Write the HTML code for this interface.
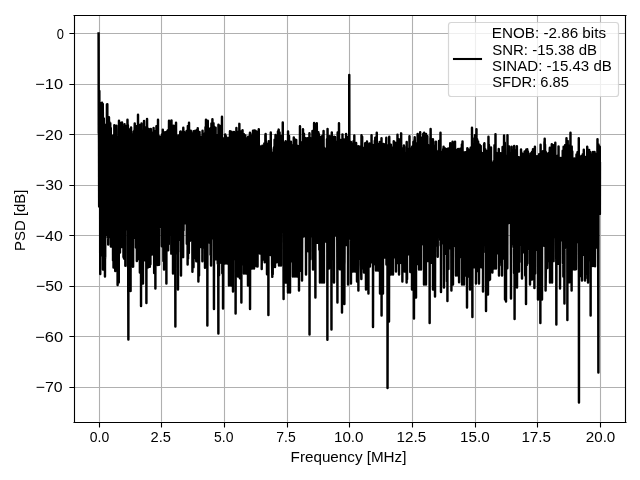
<!DOCTYPE html><html><head><meta charset="utf-8"><title>PSD</title><style>html,body{margin:0;padding:0;background:#fff;}svg{display:block;will-change:transform;}text{font-family:"Liberation Sans",sans-serif;fill:#000;}</style></head><body><svg width="640" height="480" viewBox="0 0 640 480"><rect x="0" y="0" width="640" height="480" fill="#fff"/><defs><clipPath id="ax"><rect x="73.53" y="15" width="551.47" height="406.72"/></clipPath></defs><path d="M99.5 15V421.72M161.5 15V421.72M224.5 15V421.72M287.5 15V421.72M349.5 15V421.72M412.5 15V421.72M475.5 15V421.72M537.5 15V421.72M600.5 15V421.72M73.53 33.5H625M73.53 84.5H625M73.53 134.5H625M73.53 185.5H625M73.53 235.5H625M73.53 286.5H625M73.53 336.5H625M73.53 387.5H625" stroke="#b0b0b0" stroke-width="1.1" fill="none"/><path clip-path="url(#ax)" d="M98.59 33.49L98.76 133.14L98.92 129.50L99.00 139.02L99.17 206.51L99.33 90.99L99.49 150.01L99.57 169.27L99.74 186.85L99.98 128.78L100.06 104.08L100.23 274.03L100.47 164.94L100.55 199.91L100.72 103.20L100.96 248.50L101.04 135.56L101.21 200.93L101.37 103.03L101.45 128.02L101.53 255.27L101.70 176.79L101.94 227.69L102.02 102.81L102.19 193.91L102.43 140.89L102.51 142.58L102.59 182.94L102.76 104.01L102.92 129.34L103.00 269.50L103.16 135.02L103.49 150.31L103.57 196.49L103.65 265.14L103.82 118.42L103.98 170.02L104.06 135.72L104.22 187.66L104.47 128.07L104.55 196.25L104.71 131.71L104.96 276.50L105.04 233.69L105.20 257.88L105.45 142.03L105.53 124.90L105.78 220.01L105.94 139.62L106.02 170.43L106.18 212.56L106.43 207.07L106.51 135.80L106.84 212.66L106.92 104.48L107.00 139.08L107.08 140.93L107.33 104.17L107.41 235.12L107.49 131.18L107.57 137.36L107.90 237.41L107.98 141.41L108.06 172.15L108.22 244.57L108.39 139.71L108.47 161.17L108.55 138.86L108.79 237.11L108.96 117.34L109.04 143.74L109.20 121.36L109.45 135.03L109.53 131.49L109.69 198.55L109.94 171.61L110.02 158.42L110.26 123.19L110.43 192.65L110.51 165.88L110.75 127.91L110.92 246.53L111.00 135.25L111.08 191.89L111.32 136.17L111.49 156.63L111.57 159.52L111.90 224.36L111.98 140.68L112.06 154.91L112.14 139.68L112.22 215.95L112.47 147.14L112.55 168.99L112.71 218.55L112.79 135.70L112.96 160.16L113.04 260.50L113.45 147.09L113.53 267.53L113.77 148.57L113.94 164.47L114.02 172.35L114.26 201.69L114.34 125.32L114.42 137.89L114.51 135.83L114.83 126.85L114.91 210.57L115.00 139.31L115.08 133.15L115.24 271.11L115.49 168.22L115.57 204.15L115.73 214.54L115.98 133.77L116.06 153.12L116.22 186.53L116.38 125.62L116.46 132.03L116.55 211.04L116.71 228.61L116.79 142.04L116.95 143.61L117.04 190.88L117.12 264.13L117.36 152.01L117.44 166.18L117.53 250.07L117.61 285.10L117.85 153.94L117.93 164.94L118.02 141.28L118.10 233.49L118.42 136.85L118.50 143.55L118.75 282.39L118.99 120.70L119.08 178.24L119.40 140.54L119.48 143.53L119.57 249.74L119.89 140.02L119.97 252.50L120.05 124.95L120.30 209.85L120.46 140.23L120.54 136.83L120.71 130.74L120.79 191.14L120.95 132.90L121.03 140.84L121.12 122.80L121.44 232.90L121.52 172.32L121.61 130.37L121.69 246.97L121.93 193.13L122.01 122.47L122.26 187.48L122.42 142.00L122.50 140.26L122.91 240.65L122.99 130.18L123.07 134.21L123.48 257.12L123.56 195.67L123.73 135.41L123.97 258.50L124.05 142.36L124.13 126.78L124.22 240.21L124.46 170.30L124.54 124.21L124.95 248.52L125.03 132.33L125.36 265.66L125.44 173.45L125.52 145.16L125.69 176.35L125.85 131.32L125.93 142.54L126.01 138.98L126.09 126.23L126.17 183.14L126.42 160.87L126.50 229.33L126.58 128.95L126.99 158.27L127.07 152.70L127.15 196.34L127.48 119.70L127.56 128.84L127.89 125.24L127.97 266.69L128.05 210.90L128.38 339.50L128.46 143.55L128.54 221.46L128.79 134.24L128.95 208.64L129.03 176.65L129.19 225.44L129.28 129.41L129.44 171.43L129.52 177.55L129.60 135.80L129.77 245.78L129.93 141.00L130.01 167.62L130.09 143.40L130.34 249.09L130.50 156.35L130.58 291.10L130.66 136.36L130.99 217.75L131.07 127.47L131.23 226.19L131.48 163.32L131.56 151.18L131.64 195.65L131.81 145.66L131.97 152.11L132.05 236.46L132.13 134.12L132.46 137.58L132.54 144.12L132.62 202.42L132.78 135.59L132.95 135.95L133.03 266.50L133.11 266.72L133.36 164.57L133.44 172.11L133.52 174.57L133.60 219.69L133.68 131.62L133.93 181.06L134.01 136.99L134.09 207.28L134.25 130.82L134.50 138.59L134.58 136.08L134.74 123.42L134.91 172.19L134.99 136.28L135.07 191.81L135.31 237.80L135.48 130.11L135.56 140.17L135.89 136.64L135.97 247.50L136.05 237.57L136.37 239.13L136.46 134.29L136.54 174.17L136.70 126.12L136.86 260.92L136.95 191.94L137.03 201.52L137.19 130.10L137.44 132.52L137.52 162.09L137.68 259.15L137.76 141.88L137.92 185.18L138.01 114.70L138.41 258.71L138.50 133.20L138.58 141.53L138.90 204.74L138.99 140.94L139.07 127.35L139.48 211.17L139.56 137.86L139.64 124.97L139.88 272.60L139.96 190.01L140.05 210.43L140.29 131.97L140.45 156.59L140.54 139.96L140.86 264.22L140.94 143.84L141.03 306.10L141.11 129.82L141.43 182.31L141.52 123.41L141.92 202.61L142.00 225.98L142.41 130.71L142.49 137.83L142.58 195.18L142.82 130.70L142.98 283.50L143.07 159.49L143.15 135.13L143.31 228.90L143.47 170.52L143.56 133.66L143.88 225.84L143.96 195.59L144.04 120.95L144.37 208.25L144.45 189.04L144.53 146.07L144.78 134.27L144.86 162.32L144.94 135.21L145.02 156.29L145.27 127.22L145.35 260.51L145.43 138.88L145.51 206.04L145.60 136.27L145.92 137.10L146.00 132.12L146.41 303.10L146.49 139.31L146.57 142.47L146.66 249.01L146.98 120.67L147.06 119.02L147.47 216.22L147.55 148.75L147.80 267.60L147.96 143.77L148.04 149.94L148.29 166.16L148.37 132.27L148.45 154.54L148.53 129.73L148.70 129.02L148.94 222.51L149.02 147.98L149.10 135.77L149.43 193.21L149.51 216.31L149.76 138.38L149.84 266.86L149.92 159.61L150.00 158.47L150.08 136.13L150.41 264.35L150.49 151.96L150.57 173.80L150.65 252.72L150.82 128.89L150.98 152.80L151.06 131.66L151.23 220.16L151.47 132.91L151.55 166.92L151.72 156.85L151.96 254.50L152.04 140.08L152.45 253.68L152.53 185.54L152.61 137.46L152.86 236.95L152.94 195.10L153.02 195.97L153.27 140.08L153.43 220.91L153.51 148.39L153.59 127.92L153.75 240.64L154.00 141.27L154.08 199.35L154.16 273.06L154.33 132.99L154.49 140.59L154.57 169.92L154.73 134.40L154.98 207.21L155.06 145.99L155.31 140.05L155.39 288.50L155.47 205.22L155.55 160.83L155.63 198.15L155.71 131.09L155.96 143.73L156.04 252.69L156.45 126.28L156.53 138.90L156.86 234.99L156.94 141.80L157.02 179.59L157.10 220.38L157.18 135.01L157.43 135.70L157.51 188.14L157.75 265.01L158.00 119.70L158.08 177.08L158.41 136.15L158.49 146.57L158.57 191.81L158.73 140.05L158.81 210.68L158.98 141.01L159.06 264.67L159.39 143.51L159.47 227.48L159.55 149.98L159.63 220.62L159.87 136.56L159.96 152.35L160.04 199.51L160.36 144.95L160.45 162.95L160.53 193.22L160.61 146.46L160.94 186.11L161.02 178.69L161.18 200.60L161.34 138.46L161.43 199.28L161.51 179.63L161.75 173.74L161.91 246.35L162.00 235.04L162.08 144.47L162.16 134.16L162.40 221.92L162.49 149.50L162.57 163.77L162.65 228.30L162.81 129.72L162.98 140.68L163.06 145.88L163.38 260.99L163.47 136.96L163.55 155.50L163.71 150.03L163.79 224.48L163.95 162.53L164.04 269.50L164.28 135.77L164.44 138.04L164.53 149.86L164.77 138.67L164.93 251.63L165.02 173.01L165.10 132.17L165.26 202.95L165.42 182.23L165.51 140.77L165.67 193.46L165.99 188.99L166.08 148.97L166.24 136.79L166.40 283.50L166.48 140.95L166.57 154.93L166.73 219.65L166.97 131.48L167.06 201.76L167.38 137.93L167.46 234.28L167.55 238.94L167.87 130.27L167.95 145.63L168.03 159.21L168.12 136.57L168.20 250.30L168.44 173.94L168.52 140.36L168.77 244.37L168.93 133.95L169.01 120.70L169.10 182.83L169.42 144.06L169.50 135.85L169.58 130.79L169.99 192.54L170.07 217.55L170.48 139.13L170.56 195.56L170.65 139.01L170.97 185.48L171.05 136.11L171.30 253.65L171.46 120.36L171.54 146.90L171.79 173.86L171.87 131.92L171.95 132.95L172.03 190.11L172.11 198.39L172.36 128.77L172.44 177.20L172.52 159.72L172.60 185.28L172.85 144.60L172.93 172.41L173.01 273.50L173.34 125.73L173.42 156.81L173.50 181.63L173.91 135.14L173.99 223.99L174.07 160.77L174.24 133.66L174.40 256.72L174.48 152.42L174.56 146.55L174.64 234.03L174.73 138.58L174.97 182.43L175.05 143.37L175.38 326.50L175.46 185.44L175.54 125.56L175.62 244.88L175.95 155.21L176.03 122.70L176.28 253.37L176.44 148.46L176.52 215.69L176.60 134.92L176.77 253.38L176.93 148.56L177.01 161.04L177.09 192.73L177.17 136.39L177.42 144.53L177.50 149.97L177.83 144.59L177.99 289.50L178.07 264.25L178.23 145.24L178.48 186.45L178.56 170.61L178.81 206.92L178.97 136.90L179.05 143.13L179.13 135.12L179.30 177.27L179.46 161.69L179.54 145.53L179.78 239.80L179.87 136.85L179.95 139.46L180.03 162.73L180.27 131.63L180.36 221.34L180.44 189.43L180.52 158.89L180.76 131.53L180.85 252.02L180.93 181.56L181.01 275.50L181.09 149.27L181.50 168.88L181.58 223.60L181.82 145.22L181.99 173.13L182.07 134.66L182.15 241.66L182.48 145.44L182.56 144.27L182.72 137.50L182.97 199.64L183.05 131.98L183.13 257.14L183.29 127.83L183.46 139.15L183.54 230.59L183.62 144.22L183.95 185.70L184.03 143.60L184.27 139.82L184.44 222.44L184.52 136.11L184.60 132.40L184.84 182.37L184.93 153.11L185.01 141.05L185.25 177.77L185.50 156.32L185.58 223.29L185.99 132.57L186.07 144.08L186.31 207.19L186.39 134.89L186.48 183.43L186.56 138.13L186.64 130.91L186.80 243.76L186.97 138.82L187.05 181.62L187.29 241.08L187.37 147.03L187.45 151.80L187.54 138.77L187.62 264.50L187.86 126.09L187.94 136.48L188.03 258.69L188.35 140.97L188.43 196.58L188.52 141.87L188.84 253.07L188.92 137.70L189.01 122.70L189.41 191.87L189.49 144.44L189.58 163.46L189.82 134.98L189.98 240.67L190.07 139.19L190.23 134.17L190.47 224.79L190.56 171.39L190.72 179.76L190.80 130.66L190.96 137.69L191.05 155.24L191.13 141.88L191.29 215.86L191.45 172.64L191.53 133.21L191.62 166.16L191.94 137.42L192.02 165.58L192.19 134.66L192.43 271.83L192.51 175.14L192.60 230.36L192.76 143.42L192.92 163.28L193.00 139.31L193.33 137.07L193.49 267.13L193.57 131.25L193.98 258.50L194.06 133.94L194.47 203.04L194.55 167.42L194.64 140.12L194.96 143.73L195.04 165.96L195.21 173.22L195.29 130.63L195.45 160.82L195.53 145.35L195.61 189.45L195.94 139.22L196.02 185.21L196.27 261.31L196.35 144.92L196.43 210.19L196.51 150.48L196.84 131.69L196.92 163.14L197.00 139.85L197.08 130.03L197.17 182.04L197.49 147.24L197.57 237.85L197.74 128.28L197.98 240.91L198.06 242.53L198.23 134.33L198.39 281.50L198.47 141.49L198.55 222.31L198.96 138.18L199.04 275.52L199.21 140.50L199.45 147.18L199.53 131.96L199.94 210.91L200.02 148.07L200.18 246.88L200.43 136.60L200.51 190.46L200.59 209.38L200.76 143.13L200.92 188.12L201.00 175.16L201.41 147.45L201.49 247.16L201.57 141.40L201.73 207.66L201.98 183.78L202.06 190.38L202.31 142.62L202.39 261.32L202.47 169.84L202.55 130.81L202.88 219.83L202.96 147.38L203.04 247.50L203.45 141.28L203.53 160.41L203.86 137.51L203.94 213.13L204.02 143.56L204.10 191.18L204.18 133.99L204.43 154.72L204.51 157.41L204.84 135.69L205.00 267.75L205.08 141.72L205.32 203.46L205.49 127.18L205.57 190.49L205.81 264.86L205.98 119.73L206.06 169.88L206.14 197.02L206.39 131.68L206.47 180.31L206.55 142.27L206.79 128.89L206.88 207.69L206.96 144.84L207.04 203.31L207.28 141.64L207.36 325.50L207.45 185.06L207.53 142.37L207.61 241.35L207.77 120.67L207.94 160.10L208.02 157.43L208.43 227.39L208.51 136.37L208.67 214.95L209.00 176.68L209.08 147.81L209.32 175.18L209.49 128.69L209.57 189.46L209.65 130.14L209.73 242.67L209.98 141.97L210.06 164.53L210.14 176.04L210.47 139.84L210.55 254.83L210.96 128.08L211.04 265.50L211.44 123.52L211.53 138.86L211.61 204.32L211.93 190.76L212.02 201.53L212.42 119.34L212.51 166.32L212.83 203.59L213.00 128.50L213.08 145.85L213.24 238.39L213.48 123.20L213.57 167.56L213.65 142.56L213.97 309.10L214.06 126.83L214.30 226.15L214.46 151.75L214.55 138.71L214.63 131.52L214.79 232.38L214.95 155.60L215.04 180.79L215.12 192.10L215.44 131.78L215.52 192.48L215.61 127.61L215.77 259.39L215.93 185.07L216.01 163.30L216.10 135.68L216.26 247.38L216.42 136.91L216.50 143.71L216.67 251.76L216.99 135.46L217.08 140.89L217.16 163.44L217.40 139.55L217.48 153.19L217.56 227.20L217.73 263.53L217.89 140.93L217.97 169.00L218.05 180.63L218.38 333.50L218.46 124.67L218.54 173.31L218.71 147.03L218.79 195.46L218.95 151.48L219.03 275.29L219.36 125.55L219.44 153.20L219.52 141.06L219.77 161.49L219.85 125.91L219.93 140.40L220.01 141.01L220.09 140.40L220.34 255.06L220.42 147.58L220.50 138.03L220.67 262.57L220.75 136.88L220.99 150.15L221.07 161.55L221.32 160.91L221.48 221.63L221.56 135.52L221.64 263.02L221.97 116.70L222.05 148.49L222.13 137.56L222.30 273.32L222.46 142.53L222.54 229.06L222.62 144.14L222.95 187.74L223.03 308.50L223.44 142.80L223.52 167.16L223.85 142.90L223.93 164.34L224.01 144.03L224.17 138.24L224.34 212.20L224.42 148.50L224.50 195.60L224.91 139.09L224.99 263.50L225.07 176.50L225.23 134.36L225.48 176.35L225.56 155.50L225.81 219.72L225.97 146.01L226.05 136.33L226.46 212.57L226.54 169.78L226.79 138.28L226.95 163.83L227.03 263.50L227.19 166.66L227.44 173.62L227.52 140.87L227.60 202.86L227.93 187.98L228.01 207.04L228.42 138.02L228.50 156.28L228.58 191.23L228.74 168.27L228.99 285.50L229.07 145.19L229.31 207.32L229.48 139.82L229.56 230.28L229.97 131.20L230.05 148.72L230.13 141.50L230.38 251.01L230.46 187.57L230.54 160.28L230.70 247.51L230.95 233.57L231.03 285.50L231.44 131.65L231.52 137.07L231.76 194.83L231.93 141.37L232.01 151.88L232.33 140.45L232.42 253.95L232.50 147.30L232.58 241.95L232.82 132.64L232.99 291.50L233.07 147.52L233.15 144.62L233.31 259.46L233.48 170.02L233.56 219.04L233.97 131.97L234.05 147.19L234.21 243.45L234.46 212.83L234.54 138.51L234.70 136.95L234.95 199.52L235.03 160.79L235.11 132.86L235.19 183.49L235.43 175.69L235.52 200.64L235.60 313.50L235.84 137.64L235.92 153.83L236.01 176.02L236.41 128.05L236.50 213.66L236.58 183.56L236.74 157.32L236.98 230.83L237.07 216.35L237.47 134.23L237.56 166.10L237.64 142.81L237.96 276.50L238.05 144.99L238.13 224.71L238.45 131.75L238.54 142.49L238.62 224.94L238.78 138.43L238.94 156.28L239.02 161.54L239.19 171.19L239.35 123.85L239.43 142.44L239.51 159.31L239.84 140.72L239.92 278.17L240.00 276.50L240.49 131.20L240.58 204.98L240.66 146.79L240.74 212.74L240.98 202.55L241.06 258.08L241.15 135.00L241.39 302.50L241.47 189.73L241.55 136.63L241.96 197.10L242.04 161.84L242.37 145.78L242.45 264.38L242.53 130.32L242.86 206.73L242.94 158.41L243.02 233.75L243.43 136.12L243.51 247.04L243.92 134.10L244.00 273.50L244.08 150.30L244.49 150.62L244.57 271.87L244.98 148.40L245.06 159.29L245.31 135.45L245.39 203.97L245.47 168.59L245.55 158.23L245.63 152.26L245.96 273.50L246.04 189.02L246.37 252.47L246.45 174.68L246.53 182.88L246.70 216.42L246.78 155.60L246.94 171.59L247.02 146.19L247.10 233.81L247.43 138.23L247.51 161.97L247.59 252.31L247.84 145.50L247.92 167.48L248.00 285.50L248.16 136.73L248.49 141.46L248.57 148.50L248.74 139.30L248.90 252.78L248.98 207.93L249.06 159.37L249.31 227.13L249.47 148.65L249.55 198.90L249.80 270.48L249.96 132.79L250.04 309.10L250.29 133.56L250.45 210.13L250.53 147.24L250.69 232.14L250.86 140.07L250.94 143.64L251.02 174.01L251.26 142.88L251.43 228.12L251.51 135.59L252.00 268.50L252.08 140.76L252.16 140.29L252.41 218.22L252.49 181.01L252.57 135.35L252.82 200.42L252.98 130.70L253.06 143.07L253.22 135.10L253.39 190.97L253.47 142.90L253.55 136.10L253.79 183.38L253.96 158.32L254.04 268.50L254.20 130.54L254.45 150.91L254.53 147.27L254.61 222.12L254.69 139.92L254.94 145.11L255.02 141.29L255.10 190.22L255.26 130.66L255.43 152.68L255.51 137.41L255.59 221.76L256.00 156.38L256.08 133.58L256.24 132.61L256.41 266.35L256.49 171.91L256.57 150.20L256.73 131.60L256.89 263.38L256.98 149.71L257.06 149.33L257.14 198.19L257.38 133.89L257.47 175.95L257.55 266.42L257.79 136.24L257.96 150.84L258.04 253.50L258.20 136.97L258.45 199.33L258.53 168.20L258.61 196.21L258.77 129.34L258.93 169.66L259.02 156.50L259.10 148.51L259.26 177.06L259.42 174.83L259.51 190.77L259.59 145.99L260.00 253.50L260.08 195.99L260.24 248.03L260.49 146.81L260.57 150.27L260.97 233.19L261.06 152.19L261.22 180.84L261.38 147.07L261.46 166.38L261.55 149.00L261.71 269.08L261.95 198.82L262.04 253.50L262.28 145.81L262.36 257.35L262.44 158.25L262.53 232.80L262.77 154.31L262.93 203.74L263.01 179.58L263.34 163.11L263.42 207.39L263.50 192.11L263.67 259.59L263.75 154.28L263.99 259.50L264.08 259.09L264.32 143.50L264.48 153.45L264.57 226.04L264.65 144.37L264.73 262.23L264.97 233.48L265.05 174.05L265.14 231.67L265.38 135.08L265.46 210.01L265.54 229.18L265.63 134.09L265.95 152.20L266.03 259.50L266.20 149.13L266.44 242.12L266.52 190.27L266.61 155.82L266.93 157.05L267.01 274.21L267.26 143.94L267.42 166.06L267.50 196.45L267.58 153.52L267.83 249.88L267.99 191.07L268.07 150.43L268.24 146.94L268.40 315.10L268.48 211.52L268.56 155.28L268.73 141.28L268.81 233.41L268.97 204.73L269.05 172.78L269.13 152.39L269.46 196.88L269.54 149.13L269.87 241.66L269.95 180.23L270.03 215.07L270.11 151.14L270.44 152.34L270.52 144.57L270.60 254.98L270.77 132.53L270.93 250.44L271.01 254.50L271.09 148.94L271.42 166.76L271.50 152.38L271.58 227.46L271.99 152.63L272.07 263.63L272.32 276.86L272.48 155.54L272.56 171.28L272.72 274.19L272.89 153.18L272.97 254.50L273.05 266.45L273.21 153.40L273.46 253.44L273.54 192.79L273.87 252.30L273.95 147.42L274.03 239.34L274.11 258.56L274.36 146.71L274.44 219.75L274.52 157.50L274.60 139.84L274.85 225.45L274.93 164.71L275.01 267.10L275.50 134.96L275.58 142.65L275.99 255.92L276.07 153.77L276.15 177.59L276.23 148.80L276.48 157.98L276.56 174.80L276.64 162.43L276.72 262.32L276.97 191.23L277.05 153.87L277.38 136.32L277.46 222.42L277.54 165.28L277.87 203.82L277.95 131.42L278.03 149.68L278.11 144.53L278.19 225.50L278.44 144.91L278.52 131.20L278.68 129.60L278.76 243.95L278.93 162.77L279.01 265.50L279.17 141.20L279.50 196.03L279.58 132.47L279.99 257.88L280.07 144.14L280.31 245.62L280.48 136.62L280.56 175.52L280.88 143.14L280.97 265.50L281.05 154.03L281.29 227.99L281.46 171.15L281.54 205.74L281.62 216.74L281.86 135.63L281.95 177.34L282.03 142.27L282.11 175.61L282.44 156.85L282.52 147.44L282.68 226.47L282.76 122.52L282.92 205.65L283.01 150.86L283.17 148.93L283.50 242.16L283.58 298.90L283.66 142.44L283.99 165.01L284.07 148.01L284.31 244.96L284.48 163.28L284.56 169.05L284.72 143.36L284.80 246.34L284.96 165.94L285.05 196.90L285.37 149.47L285.45 271.85L285.54 151.36L285.62 141.26L285.86 282.63L285.94 145.71L286.03 168.85L286.11 184.66L286.19 143.96L286.43 172.88L286.51 145.33L286.84 203.50L286.92 161.34L287.00 172.00L287.25 145.04L287.49 203.80L287.58 156.10L287.66 144.90L287.98 292.50L288.07 131.42L288.47 249.38L288.55 158.12L288.72 231.62L288.80 138.64L288.96 143.18L289.04 135.93L289.29 199.38L289.45 152.07L289.53 144.82L289.86 204.40L289.94 143.99L290.02 292.50L290.19 150.92L290.43 158.13L290.51 158.18L290.76 261.33L290.92 141.81L291.00 155.51L291.41 155.45L291.49 261.22L291.57 198.28L291.66 151.63L291.82 260.02L291.98 184.27L292.06 154.65L292.23 193.95L292.39 145.80L292.47 170.80L292.55 147.63L292.96 276.50L293.04 168.82L293.29 152.59L293.37 243.58L293.45 193.67L293.53 162.53L293.78 137.56L293.94 214.37L294.02 161.36L294.19 190.13L294.27 143.94L294.43 177.81L294.51 152.54L294.59 235.33L294.67 139.10L294.92 205.83L295.00 276.50L295.33 150.37L295.49 151.37L295.57 184.60L295.65 250.11L295.98 163.86L296.06 240.11L296.23 139.97L296.31 247.32L296.47 147.95L296.55 150.25L296.63 149.40L296.96 276.50L297.04 156.74L297.12 148.02L297.20 213.59L297.45 168.94L297.53 153.32L297.69 145.87L297.78 175.90L297.94 174.15L298.02 178.79L298.18 148.29L298.35 234.08L298.43 195.22L298.51 188.53L298.84 147.04L299.00 290.50L299.08 188.45L299.33 238.18L299.41 159.97L299.49 179.86L299.57 255.48L299.98 126.20L300.06 156.00L300.31 238.56L300.39 147.35L300.47 153.86L300.55 226.65L300.63 149.86L300.71 270.67L300.96 152.92L301.04 231.35L301.12 142.49L301.45 173.06L301.53 269.19L301.94 144.20L302.02 280.50L302.43 141.90L302.51 182.39L302.83 233.77L303.00 129.20L303.08 170.94L303.16 143.37L303.24 211.15L303.49 149.00L303.57 236.42L303.98 133.72L304.06 147.17L304.14 222.51L304.47 166.07L304.55 158.66L304.79 147.87L304.87 176.38L304.96 169.05L305.04 137.97L305.28 202.32L305.45 200.73L305.53 201.58L305.61 232.88L305.85 186.75L305.94 230.37L306.02 274.50L306.26 138.55L306.42 177.81L306.51 150.55L306.59 227.01L307.00 145.59L307.08 172.82L307.32 140.92L307.49 228.42L307.57 224.13L307.65 138.22L307.98 178.07L308.06 191.23L308.22 251.30L308.46 153.66L308.55 192.17L308.63 249.57L308.71 145.59L308.95 220.33L309.04 171.94L309.12 237.38L309.44 133.31L309.53 334.50L309.77 145.92L309.93 153.43L310.02 151.73L310.26 142.37L310.34 259.21L310.42 225.14L310.50 156.36L310.83 138.58L310.91 195.87L310.99 151.16L311.08 147.16L311.24 140.03L311.48 236.39L311.57 182.79L311.65 188.74L311.81 141.01L311.97 146.69L312.06 175.47L312.14 186.24L312.46 131.07L312.54 197.46L312.71 139.47L312.95 145.60L313.03 269.50L313.20 133.41L313.44 144.46L313.52 172.54L313.61 138.16L313.77 264.60L313.93 145.25L314.01 174.71L314.10 123.04L314.26 264.62L314.42 179.85L314.50 138.14L314.58 197.36L314.83 136.54L314.99 140.06L315.07 128.48L315.40 297.50L315.48 187.29L315.56 176.71L315.65 225.14L315.89 140.91L315.97 145.98L316.05 192.79L316.38 124.09L316.46 161.84L316.54 213.97L316.79 123.24L316.95 141.38L317.03 149.58L317.36 138.62L317.44 242.68L317.52 181.98L317.69 147.99L317.77 203.86L317.93 173.32L318.01 172.33L318.18 183.06L318.34 132.32L318.42 152.99L318.50 206.77L318.91 134.31L318.99 146.18L319.07 190.67L319.32 249.68L319.48 141.38L319.56 173.10L319.73 140.97L319.97 282.50L320.05 151.06L320.13 139.00L320.38 278.19L320.46 251.80L320.54 144.97L320.87 137.09L320.95 259.04L321.03 188.45L321.36 136.81L321.44 207.84L321.52 148.21L321.60 146.65L321.93 245.76L322.01 282.50L322.17 145.58L322.50 177.28L322.58 166.63L322.66 135.45L322.74 208.20L322.99 143.67L323.07 143.21L323.23 233.15L323.48 140.73L323.56 130.95L323.97 282.50L324.05 147.69L324.13 214.19L324.46 163.13L324.54 208.28L324.70 228.05L324.78 157.51L324.95 163.24L325.03 157.19L325.36 241.43L325.44 197.75L325.52 176.52L325.60 148.70L325.76 227.89L325.93 184.94L326.01 214.38L326.50 148.51L326.58 200.20L326.74 233.64L326.99 139.18L327.07 162.98L327.23 146.71L327.40 339.80L327.48 151.24L327.56 129.04L327.64 159.63L327.97 149.76L328.05 178.61L328.21 147.14L328.29 252.41L328.46 148.37L328.54 247.62L328.62 165.67L328.95 268.42L329.03 149.44L329.27 206.75L329.44 199.84L329.52 170.89L329.60 136.21L329.68 191.82L329.93 147.15L330.01 234.59L330.50 147.56L330.58 229.96L330.99 175.48L331.07 153.61L331.23 143.86L331.48 329.60L331.56 148.77L331.64 163.71L331.80 132.49L331.97 152.34L332.05 249.48L332.37 138.90L332.45 145.97L332.54 168.43L332.62 147.53L332.86 205.32L332.94 196.49L333.03 215.77L333.11 144.88L333.43 158.64L333.52 153.73L333.68 225.23L333.76 142.83L333.92 180.85L334.01 282.50L334.17 136.60L334.49 147.48L334.58 149.33L334.66 211.05L334.98 136.93L335.07 187.12L335.31 223.45L335.39 142.54L335.47 153.23L335.56 235.45L335.96 148.78L336.05 144.95L336.13 204.26L336.45 188.54L336.53 146.19L336.78 207.43L336.94 141.76L337.02 153.82L337.43 302.50L337.51 166.72L337.68 132.51L337.84 256.97L337.92 138.70L338.00 143.48L338.17 141.19L338.41 193.38L338.49 158.28L338.57 192.28L338.90 246.50L338.98 123.20L339.06 151.13L339.15 247.86L339.47 147.34L339.55 196.67L339.64 151.36L339.88 269.32L339.96 156.83L340.04 234.17L340.12 141.13L340.45 199.97L340.53 139.96L340.61 267.60L340.94 144.16L341.02 174.57L341.10 145.50L341.35 227.51L341.43 202.76L341.51 152.39L341.76 143.52L341.84 230.50L341.92 213.94L342.00 312.50L342.49 134.36L342.57 223.30L342.90 147.35L342.98 154.15L343.06 203.28L343.39 144.53L343.47 236.46L343.55 223.13L343.63 144.91L343.96 163.74L344.04 176.87L344.12 139.45L344.37 303.90L344.45 265.32L344.53 261.79L344.94 152.76L345.02 196.77L345.10 230.33L345.18 146.33L345.43 208.90L345.51 147.53L345.59 141.63L345.92 178.68L346.00 176.19L346.08 133.88L346.16 207.13L346.49 149.25L346.57 216.27L346.65 139.50L346.73 245.02L346.98 211.77L347.06 160.95L347.14 137.70L347.39 205.91L347.47 140.09L347.55 200.62L347.71 147.82L347.96 194.41L348.04 284.50L348.37 136.61L348.45 139.28L348.53 202.65L348.69 139.60L348.77 222.33L348.94 183.48L349.02 150.99L349.18 186.32L349.26 74.87L349.43 176.87L349.51 168.20L349.84 224.83L349.92 154.35L350.00 183.22L350.08 179.26L350.16 158.69L350.49 174.20L350.57 239.00L350.90 142.09L350.98 283.50L351.06 215.41L351.39 146.51L351.47 243.00L351.55 143.73L351.88 246.36L351.96 157.02L352.04 166.56L352.36 154.49L352.45 262.42L352.53 157.85L352.61 148.16L352.94 248.02L353.02 271.50L353.34 143.42L353.43 180.43L353.51 141.34L354.00 205.86L354.08 207.84L354.32 135.50L354.40 245.44L354.49 190.64L354.57 168.68L354.65 144.17L354.98 271.50L355.06 157.79L355.22 223.64L355.38 146.56L355.47 181.71L355.55 209.76L355.71 146.77L355.95 147.25L356.04 154.73L356.12 142.99L356.20 193.52L356.44 167.72L356.53 157.05L356.85 153.09L356.93 221.88L357.02 281.50L357.10 202.13L357.42 206.99L357.51 178.92L357.67 153.77L357.91 236.37L357.99 229.96L358.08 161.32L358.32 146.23L358.40 290.50L358.48 151.47L358.57 147.33L358.81 219.62L358.97 205.09L359.06 200.06L359.14 157.65L359.22 249.04L359.46 217.24L359.55 179.58L359.79 146.81L359.95 258.67L360.03 239.46L360.12 161.80L360.44 175.26L360.52 162.36L360.61 251.55L360.85 161.55L360.93 162.10L361.01 264.50L361.34 278.93L361.42 159.14L361.50 135.20L361.83 206.59L361.99 195.89L362.07 181.33L362.16 136.83L362.32 236.39L362.48 186.51L362.56 224.52L362.81 189.04L362.89 268.25L362.97 216.11L363.05 155.42L363.22 198.20L363.30 147.77L363.46 166.61L363.54 186.28L363.71 184.09L363.87 234.48L363.95 201.96L364.03 272.50L364.44 151.92L364.52 165.59L364.77 258.75L364.85 154.84L364.93 252.84L365.01 260.14L365.18 143.22L365.42 190.51L365.50 206.35L365.67 151.04L365.99 289.50L366.07 169.13L366.15 232.16L366.32 148.70L366.48 157.94L366.56 230.70L366.97 141.39L367.05 255.10L367.46 147.35L367.54 179.21L367.87 193.23L367.95 152.53L368.03 164.69L368.19 146.84L368.44 293.50L368.52 152.98L368.77 236.36L368.93 161.10L369.01 193.08L369.09 198.30L369.42 143.59L369.50 166.17L369.83 159.13L369.91 266.44L369.99 171.87L370.07 147.60L370.23 245.94L370.48 176.17L370.56 216.25L370.72 156.06L370.89 262.24L370.97 229.41L371.05 218.05L371.30 246.24L371.46 158.46L371.54 135.20L371.87 185.75L371.95 144.68L372.03 208.82L372.27 144.78L372.44 159.61L372.52 157.37L372.60 185.49L372.85 145.41L372.93 166.07L373.01 326.90L373.34 145.18L373.50 152.95L373.58 148.81L373.74 264.53L373.82 145.62L373.99 160.22L374.07 156.81L374.15 145.76L374.40 251.46L374.48 234.69L374.56 211.45L374.80 140.69L374.97 189.41L375.05 141.18L375.21 192.36L375.29 137.61L375.46 158.88L375.54 190.65L375.95 150.16L376.03 270.50L376.35 151.59L376.44 209.59L376.52 188.36L376.60 192.27L376.76 132.70L376.93 154.82L377.01 149.87L377.33 146.15L377.42 260.16L377.50 155.38L377.58 145.12L377.99 270.50L378.07 180.11L378.39 191.17L378.48 144.01L378.56 207.39L378.88 264.02L378.97 151.83L379.05 175.69L379.21 267.98L379.29 148.38L379.46 196.55L379.54 181.95L379.70 141.99L379.86 230.40L379.94 198.00L380.03 293.50L380.11 143.71L380.43 151.26L380.52 253.83L380.92 148.59L381.01 176.17L381.17 264.66L381.50 138.15L381.58 315.50L381.74 144.51L381.98 156.76L382.07 145.60L382.15 235.55L382.47 150.65L382.56 165.72L382.64 157.99L382.96 293.50L383.05 201.57L383.29 219.11L383.37 143.90L383.45 161.89L383.54 182.61L383.70 148.85L383.86 224.44L383.94 177.38L384.02 201.57L384.11 210.81L384.27 153.14L384.43 163.83L384.51 182.87L384.60 144.47L384.68 257.47L384.92 159.47L385.00 162.06L385.17 151.53L385.33 239.18L385.49 153.19L385.58 192.06L385.90 205.44L385.98 149.51L386.06 159.49L386.31 137.79L386.47 264.51L386.55 190.53L386.72 217.45L386.80 146.36L386.96 154.90L387.04 181.68L387.13 175.05L387.21 222.43L387.45 182.24L387.53 388.10L387.94 147.54L388.02 205.89L388.35 145.20L388.43 206.48L388.51 155.96L388.59 250.22L388.84 149.43L388.92 210.13L389.00 321.50L389.25 136.64L389.49 161.58L389.57 172.64L389.65 154.20L389.98 244.12L390.06 156.34L390.31 148.94L390.47 184.79L390.55 231.90L390.88 144.83L390.96 274.50L391.04 193.69L391.12 261.70L391.29 152.28L391.45 172.30L391.53 180.32L391.61 156.08L391.69 220.08L391.94 208.61L392.02 206.48L392.18 148.87L392.43 197.87L392.51 194.12L392.92 147.58L393.00 274.50L393.41 147.77L393.49 211.58L393.57 167.37L393.73 141.26L393.98 248.63L394.06 148.34L394.47 257.34L394.55 160.06L394.80 144.53L394.96 184.43L395.04 179.97L395.20 142.73L395.45 229.37L395.53 164.99L395.61 242.55L395.94 151.05L396.02 271.50L396.18 156.14L396.43 177.57L396.51 187.23L396.67 162.14L396.75 203.52L397.00 167.42L397.08 162.95L397.16 196.74L397.49 134.70L397.57 150.75L397.73 263.08L397.98 244.86L398.06 172.31L398.30 258.66L398.47 158.68L398.55 147.54L398.79 139.32L398.96 229.81L399.04 274.50L399.12 156.97L399.45 176.20L399.53 173.87L399.77 153.64L399.94 219.27L400.02 191.64L400.43 146.92L400.51 202.65L400.67 158.54L400.92 229.13L401.00 165.19L401.08 150.62L401.16 133.35L401.32 263.02L401.49 251.07L401.57 164.63L401.81 156.96L401.89 230.80L401.98 165.08L402.06 158.26L402.38 281.50L402.47 186.50L402.55 237.83L402.79 260.69L402.87 155.87L402.96 162.79L403.04 157.45L403.12 210.79L403.28 148.82L403.44 158.35L403.53 147.96L403.69 244.06L403.93 145.54L404.02 212.01L404.18 146.66L404.42 200.77L404.51 173.14L404.59 271.60L404.91 158.10L405.00 254.50L405.08 157.68L405.32 153.43L405.48 180.22L405.57 198.07L405.73 153.12L405.97 234.36L406.06 198.50L406.22 209.97L406.30 153.11L406.46 156.79L406.55 152.46L406.63 282.42L406.71 141.96L406.95 258.98L407.04 279.31L407.12 151.57L407.44 171.17L407.52 195.64L407.69 179.80L407.77 249.00L407.93 218.00L408.01 254.50L408.42 149.49L408.50 191.34L408.67 216.09L408.83 148.60L408.99 209.16L409.08 176.96L409.16 218.27L409.48 136.20L409.56 178.99L409.65 202.03L409.89 154.95L409.97 168.95L410.05 215.19L410.22 153.45L410.30 272.01L410.46 176.68L410.54 148.39L410.79 263.65L410.95 175.73L411.03 154.34L411.12 184.09L411.28 148.69L411.44 149.39L411.52 202.77L411.77 234.93L411.93 151.88L412.01 289.50L412.18 146.64L412.42 156.43L412.50 252.13L412.58 253.00L412.75 146.13L412.99 213.60L413.07 201.75L413.40 142.06L413.48 220.01L413.56 262.23L413.73 153.54L413.97 318.50L414.05 155.04L414.13 234.23L414.38 140.19L414.46 154.10L414.54 174.96L414.71 137.23L414.95 151.87L415.03 142.95L415.36 259.04L415.44 161.76L415.52 182.91L415.77 154.73L415.93 204.09L416.01 297.50L416.09 148.36L416.42 174.36L416.50 150.75L416.75 148.85L416.91 202.60L416.99 198.94L417.07 152.02L417.24 142.87L417.40 218.67L417.48 175.07L417.56 144.65L417.64 134.00L417.72 222.65L417.97 140.53L418.05 264.11L418.13 137.44L418.46 150.57L418.54 222.53L418.62 144.73L418.95 176.68L419.03 269.50L419.28 135.75L419.44 154.40L419.52 140.57L419.68 227.28L419.93 154.77L420.01 191.55L420.17 132.25L420.34 242.86L420.50 172.39L420.58 166.28L420.91 150.60L420.99 269.50L421.07 149.44L421.31 148.46L421.40 176.48L421.48 175.92L421.56 174.63L421.89 237.63L421.97 137.63L422.05 152.30L422.38 243.90L422.46 168.57L422.54 173.98L422.78 146.28L422.95 174.82L423.03 145.15L423.27 133.78L423.35 244.43L423.44 174.00L423.52 154.67L423.76 174.90L423.93 139.02L424.01 284.50L424.17 132.69L424.50 229.24L424.58 155.95L424.66 246.23L424.91 151.33L424.99 224.52L425.07 195.67L425.23 148.77L425.31 197.71L425.48 183.45L425.56 172.77L425.64 152.69L425.97 284.50L426.05 133.90L426.37 211.05L426.46 162.62L426.54 192.53L426.86 136.12L426.95 147.95L427.03 196.78L427.19 218.85L427.35 136.23L427.43 216.94L427.52 200.88L427.60 149.35L427.76 260.94L427.92 229.23L428.01 219.50L428.09 144.95L428.50 233.74L428.58 186.79L428.66 215.98L428.82 150.62L428.99 158.31L429.07 237.18L429.15 152.77L429.47 189.34L429.56 206.39L429.64 323.10L429.80 150.05L429.96 224.49L430.05 147.26L430.13 225.58L430.45 137.85L430.54 160.62L430.62 128.93L430.94 185.17L431.03 139.40L431.43 262.86L431.51 203.57L431.60 222.01L431.68 149.81L431.92 156.72L432.00 193.95L432.17 244.16L432.33 150.18L432.49 209.91L432.58 177.77L432.90 139.13L432.98 289.50L433.07 197.00L433.23 268.51L433.31 141.41L433.47 183.82L433.55 150.96L433.64 257.50L433.72 147.65L433.96 191.98L434.04 174.41L434.21 153.35L434.45 254.11L434.53 152.20L434.78 145.62L434.86 240.20L434.94 237.06L435.02 296.50L435.27 153.51L435.43 193.28L435.51 155.74L435.76 236.22L435.92 141.81L436.00 158.16L436.25 212.84L436.41 152.05L436.49 178.67L436.57 214.98L436.98 154.91L437.06 154.84L437.23 245.52L437.39 152.09L437.47 239.29L437.55 192.49L437.72 256.80L437.88 154.95L437.96 182.52L438.04 177.27L438.21 154.96L438.45 190.79L438.53 154.30L438.61 232.96L438.70 150.51L438.94 207.82L439.02 141.05L439.27 225.46L439.43 200.70L439.51 187.79L439.67 225.91L439.76 158.26L439.92 174.95L440.00 154.15L440.25 240.06L440.49 132.70L440.57 245.39L440.90 159.20L440.98 291.90L441.06 263.16L441.31 151.67L441.47 213.72L441.55 243.70L441.71 155.16L441.96 161.64L442.04 172.46L442.12 232.60L442.20 162.57L442.45 175.72L442.53 158.24L442.69 243.10L442.94 188.91L443.02 185.91L443.10 213.73L443.26 148.90L443.43 151.23L443.51 154.43L443.59 146.75L444.00 287.50L444.08 270.42L444.24 163.12L444.49 198.38L444.57 158.97L444.90 234.23L444.98 162.47L445.06 200.99L445.22 148.53L445.47 164.60L445.55 158.58L445.79 246.96L445.96 156.32L446.04 148.92L446.20 253.91L446.45 212.72L446.53 194.72L446.61 149.93L446.86 249.89L446.94 159.06L447.02 281.45L447.34 159.22L447.43 301.10L447.51 153.90L447.92 237.78L448.00 187.23L448.08 180.77L448.24 148.38L448.41 269.10L448.49 161.10L448.57 152.31L448.65 208.92L448.98 195.27L449.06 175.75L449.14 161.47L449.47 217.60L449.55 154.82L449.71 182.27L449.96 167.52L450.04 190.27L450.20 143.11L450.28 205.52L450.45 153.42L450.53 248.28L450.61 150.83L450.94 155.14L451.02 159.97L451.10 158.44L451.42 290.50L451.51 160.52L451.91 226.98L452.00 150.28L452.08 219.37L452.49 148.39L452.57 141.84L452.98 284.50L453.06 149.55L453.46 246.52L453.55 178.52L453.63 216.40L453.87 156.13L453.95 176.32L454.04 157.87L454.20 154.22L454.36 167.89L454.44 156.76L454.53 196.69L454.61 150.02L454.93 191.35L455.01 141.63L455.26 198.89L455.42 183.44L455.50 164.54L455.59 151.60L455.99 275.50L456.08 166.22L456.32 149.85L456.40 174.28L456.48 152.87L456.57 156.37L456.89 210.02L456.97 162.30L457.05 153.45L457.30 225.71L457.46 154.16L457.54 155.27L457.63 179.31L457.95 156.59L458.03 275.50L458.12 148.98L458.44 163.33L458.52 194.95L458.61 155.63L458.85 219.62L458.93 158.77L459.01 158.29L459.09 282.31L459.42 158.61L459.50 165.53L459.83 164.59L459.99 217.63L460.07 245.34L460.32 148.80L460.48 181.78L460.56 188.73L460.89 154.80L460.97 191.27L461.05 155.92L461.13 240.98L461.38 151.50L461.46 166.54L461.54 153.84L461.62 257.66L461.87 144.38L461.95 156.66L462.03 284.50L462.20 160.45L462.44 169.33L462.52 141.49L462.85 211.29L462.93 175.19L463.01 158.45L463.09 228.98L463.42 152.27L463.50 216.33L463.66 183.52L463.99 284.50L464.07 247.09L464.32 155.90L464.48 217.91L464.56 169.48L464.73 164.56L464.97 255.20L465.05 260.56L465.30 152.13L465.46 246.16L465.54 202.53L465.62 275.46L465.79 155.60L465.95 173.06L466.03 209.83L466.36 152.55L466.44 189.67L466.52 249.40L466.77 155.24L466.93 204.10L467.01 307.50L467.34 148.20L467.50 201.98L467.58 155.52L467.99 208.27L468.07 151.26L468.15 202.23L468.48 172.32L468.56 195.50L468.72 149.61L468.97 233.88L469.05 159.07L469.21 276.50L469.46 227.14L469.54 158.28L469.62 271.07L469.70 153.95L469.95 192.45L470.03 289.50L470.27 153.77L470.44 221.91L470.52 209.17L470.68 147.75L470.76 267.20L470.93 158.39L471.01 159.69L471.09 270.36L471.25 150.85L471.50 162.12L471.58 252.61L471.91 264.45L471.99 127.70L472.07 161.28L472.40 317.10L472.48 147.73L472.56 144.31L472.88 235.22L472.97 151.22L473.05 235.03L473.29 149.19L473.46 155.53L473.54 187.97L473.78 151.16L473.95 256.58L474.03 144.11L474.35 267.33L474.44 151.85L474.52 138.35L474.60 261.24L474.92 155.93L475.01 135.25L475.50 237.09L475.58 209.67L475.90 143.04L475.99 283.50L476.07 160.72L476.23 257.71L476.48 129.20L476.56 271.56L476.96 149.68L477.05 196.08L477.13 139.34L477.21 206.51L477.45 146.54L477.54 260.79L477.86 149.44L477.94 156.57L478.03 145.61L478.11 141.47L478.19 223.69L478.43 171.07L478.52 199.50L478.68 148.36L478.92 260.24L479.00 283.50L479.49 144.60L479.58 170.59L479.90 145.23L479.98 243.81L480.07 163.49L480.31 154.59L480.47 216.76L480.56 188.22L480.72 145.96L480.88 253.89L480.96 181.14L481.04 186.41L481.13 152.47L481.29 267.21L481.45 165.51L481.53 182.22L481.70 157.84L481.78 230.95L481.94 186.30L482.02 194.83L482.19 209.11L482.43 153.25L482.51 206.71L482.76 153.42L482.92 207.62L483.00 291.50L483.25 154.39L483.49 252.18L483.57 154.84L483.82 211.58L483.98 208.68L484.06 144.61L484.39 143.29L484.47 244.90L484.55 184.30L484.64 165.59L484.72 238.26L484.96 224.35L485.04 186.49L485.21 149.13L485.37 223.78L485.45 208.28L485.53 205.57L485.61 159.29L485.94 164.50L486.02 311.10L486.10 154.88L486.43 168.95L486.51 215.50L486.67 241.58L486.92 181.81L487.00 153.31L487.33 230.75L487.41 150.84L487.49 163.42L487.57 169.41L487.82 161.68L487.98 294.50L488.06 246.67L488.47 136.70L488.55 150.23L488.88 280.16L488.96 145.06L489.04 176.84L489.37 149.29L489.45 189.08L489.53 193.71L489.86 238.90L489.94 147.93L490.02 279.50L490.10 154.95L490.43 169.60L490.51 156.56L490.92 218.18L491.00 147.52L491.08 190.38L491.16 225.09L491.33 164.66L491.49 206.83L491.57 182.82L491.73 163.66L491.98 220.35L492.06 217.37L492.14 174.87L492.39 272.60L492.47 202.50L492.55 233.84L492.79 164.27L492.96 203.65L493.04 195.55L493.20 240.47L493.28 162.62L493.45 213.14L493.53 243.92L493.77 161.34L493.94 202.96L494.02 268.50L494.10 162.99L494.43 169.87L494.51 145.26L494.83 237.66L495.00 190.29L495.08 156.45L495.16 221.89L495.49 134.20L495.57 156.60L495.98 268.50L496.06 182.18L496.22 216.12L496.47 153.27L496.55 152.87L496.79 227.59L496.96 161.94L497.04 155.97L497.36 253.30L497.45 178.73L497.53 164.47L497.61 242.24L497.94 167.80L498.02 167.89L498.10 248.69L498.43 156.45L498.51 164.83L498.75 148.98L499.00 275.50L499.08 158.09L499.49 265.13L499.57 181.63L499.65 215.97L499.89 156.58L499.98 160.95L500.06 239.02L500.22 157.86L500.47 168.89L500.55 202.10L500.71 153.26L500.87 261.97L500.95 163.65L501.04 177.96L501.20 168.56L501.44 255.33L501.53 180.47L501.61 159.66L501.69 217.72L501.93 162.41L502.02 275.50L502.34 163.41L502.42 217.67L502.51 173.25L502.59 146.96L502.83 204.54L502.99 157.03L503.08 154.42L503.16 152.36L503.40 205.40L503.48 167.10L503.57 258.64L503.89 163.05L503.97 188.28L504.06 135.59L504.30 188.34L504.46 182.57L504.54 190.11L504.79 142.80L504.95 161.77L505.03 299.50L505.44 155.71L505.52 161.11L505.93 198.97L506.01 301.50L506.18 185.28L506.42 208.41L506.50 187.53L506.58 174.35L506.83 234.21L506.99 185.63L507.07 172.47L507.32 268.24L507.48 135.20L507.56 172.14L507.97 153.62L508.05 180.67L508.22 223.35L508.46 163.55L508.54 216.35L508.62 220.16L508.87 178.08L508.95 186.44L509.03 179.05L509.11 146.39L509.36 180.84L509.44 159.20L509.52 158.98L509.60 222.89L509.69 155.08L509.93 193.29L510.01 189.85L510.34 214.60L510.42 154.12L510.50 164.38L510.75 153.57L510.99 298.50L511.07 246.01L511.32 159.51L511.48 204.05L511.56 206.83L511.64 146.82L511.97 169.93L512.05 177.61L512.38 244.04L512.46 160.08L512.54 164.32L512.62 150.00L512.95 167.45L513.03 172.19L513.19 220.15L513.44 160.43L513.52 167.97L513.68 247.02L513.93 161.53L514.01 225.37L514.09 272.88L514.17 145.97L514.50 167.78L514.58 319.10L514.83 160.52L514.99 167.13L515.07 157.90L515.15 180.90L515.23 150.24L515.48 152.80L515.56 163.37L515.97 271.85L516.05 181.61L516.21 154.32L516.38 218.26L516.46 159.36L516.54 156.29L516.70 246.37L516.87 146.17L516.95 156.10L517.03 287.50L517.36 156.67L517.44 156.96L517.52 157.98L517.60 243.08L517.93 160.49L518.01 157.83L518.17 259.70L518.50 190.53L518.58 169.52L518.82 157.15L518.99 271.50L519.07 166.41L519.23 160.98L519.40 261.88L519.48 235.21L519.56 157.81L519.64 226.47L519.97 197.42L520.05 217.04L520.29 161.40L520.37 234.51L520.46 190.43L520.54 202.54L520.78 195.50L520.95 244.58L521.03 149.59L521.19 221.28L521.44 152.45L521.52 192.56L521.76 214.35L521.84 153.62L521.93 158.66L522.01 278.50L522.33 161.29L522.50 169.73L522.58 166.84L522.90 198.79L522.99 159.39L523.07 178.04L523.23 156.11L523.48 252.22L523.56 171.76L523.80 153.73L523.88 232.42L523.97 165.51L524.05 192.71L524.21 226.29L524.37 154.26L524.45 177.56L524.54 167.00L524.62 151.45L524.94 157.72L525.03 152.72L525.27 275.62L525.35 151.82L525.43 215.17L525.52 153.04L525.84 242.38L525.92 167.19L526.01 303.90L526.33 149.45L526.49 156.80L526.58 155.81L526.82 264.95L526.98 157.40L527.07 180.90L527.23 149.26L527.31 263.44L527.47 195.44L527.56 164.11L527.80 204.87L527.88 151.50L527.96 184.11L528.05 157.92L528.13 153.27L528.21 235.81L528.45 215.35L528.53 155.66L528.62 207.59L528.94 169.04L529.02 160.16L529.27 200.98L529.43 180.62L529.51 249.10L529.92 158.58L530.00 284.50L530.33 176.52L530.49 179.81L530.57 195.87L530.66 153.39L530.82 224.45L530.98 209.85L531.06 228.03L531.15 153.48L531.47 217.75L531.55 165.43L531.64 156.62L531.96 279.50L532.04 151.71L532.21 216.05L532.45 185.41L532.53 242.43L532.70 155.39L532.78 266.16L532.94 189.99L533.02 149.12L533.43 243.44L533.51 203.34L533.59 251.49L533.84 154.49L533.92 179.33L534.00 168.55L534.41 288.10L534.49 198.08L534.57 184.92L534.90 146.82L534.98 264.88L535.06 170.18L535.14 273.56L535.39 156.59L535.47 185.08L535.55 187.16L535.63 224.35L535.80 156.69L535.96 190.41L536.04 175.36L536.21 163.68L536.37 249.88L536.45 166.03L536.53 156.69L536.78 156.32L536.94 182.14L537.02 230.79L537.35 167.52L537.43 169.05L537.51 231.52L537.67 158.24L537.92 164.93L538.00 299.50L538.33 155.98L538.49 199.34L538.57 185.92L538.65 162.06L538.73 227.45L538.98 194.73L539.06 156.12L539.14 154.13L539.22 231.06L539.47 203.88L539.55 171.30L539.71 160.06L539.88 214.42L539.96 161.52L540.04 202.91L540.20 161.71L540.37 323.10L540.45 191.73L540.53 174.75L540.61 144.72L540.86 206.97L540.94 170.73L541.02 171.97L541.18 210.78L541.43 155.43L541.51 183.76L541.67 179.54L542.00 299.50L542.08 163.11L542.16 156.16L542.24 211.82L542.49 185.88L542.57 229.78L542.81 232.95L542.98 151.11L543.06 204.37L543.22 171.27L543.47 240.99L543.55 217.97L543.88 154.81L543.96 178.08L544.04 208.01L544.20 245.77L544.45 141.73L544.53 153.00L544.69 138.68L544.77 177.66L544.94 155.02L545.02 144.60L545.34 209.16L545.43 181.03L545.51 151.55L545.59 290.50L546.00 259.41L546.08 152.39L546.24 216.34L546.49 216.16L546.57 157.37L546.73 182.39L546.98 165.28L547.06 233.95L547.22 181.04L547.38 267.95L547.47 218.31L547.55 178.63L547.63 153.64L547.79 214.47L547.96 164.64L548.04 195.67L548.36 153.47L548.44 190.93L548.53 165.78L548.69 261.06L548.93 188.13L549.02 153.07L549.18 222.46L549.42 161.29L549.51 155.90L549.83 147.82L550.00 282.50L550.08 161.49L550.16 150.97L550.48 208.82L550.57 203.82L550.89 149.14L550.97 160.83L551.06 205.85L551.30 258.29L551.46 157.79L551.55 194.77L551.79 144.30L551.95 182.97L552.04 282.50L552.12 161.85L552.44 221.12L552.52 233.67L552.77 157.28L552.93 173.07L553.01 155.84L553.10 204.12L553.26 145.12L553.42 157.74L553.50 228.48L553.59 261.12L553.99 177.53L554.07 160.07L554.24 185.84L554.40 154.26L554.48 158.70L554.56 215.10L554.81 152.06L554.97 218.75L555.05 163.03L555.30 142.82L555.38 237.05L555.46 192.74L555.54 161.72L555.63 226.29L555.79 159.69L555.95 162.08L556.03 178.88L556.11 165.03L556.36 324.50L556.44 268.94L556.52 209.72L556.60 254.17L556.85 168.36L556.93 180.94L557.01 179.60L557.09 155.96L557.18 219.33L557.42 163.06L557.50 217.31L557.67 258.82L557.83 166.28L557.99 203.32L558.07 182.23L558.15 166.56L558.24 263.80L558.48 183.41L558.56 146.40L558.73 224.89L558.97 179.71L559.05 207.77L559.30 158.34L559.46 174.95L559.54 222.32L559.62 228.88L559.79 160.76L559.95 194.78L560.03 288.50L560.44 157.85L560.52 181.43L560.60 231.17L560.93 183.02L561.01 174.33L561.34 240.28L561.42 168.01L561.50 195.05L561.66 158.23L561.99 200.88L562.07 195.43L562.15 157.63L562.40 204.98L562.48 167.62L562.56 201.36L562.72 150.65L562.97 163.82L563.05 263.18L563.21 155.96L563.38 276.61L563.46 263.22L563.54 215.61L563.62 146.69L563.79 239.70L563.95 216.68L564.03 182.94L564.11 153.87L564.44 303.50L564.52 234.51L564.85 161.79L564.93 247.98L565.01 209.72L565.09 215.57L565.25 144.85L565.50 157.55L565.58 163.33L565.83 183.60L565.99 159.23L566.07 206.43L566.48 138.20L566.56 165.48L566.72 150.58L566.97 220.00L567.05 205.33L567.29 159.28L567.38 319.90L567.46 165.72L567.54 165.12L567.70 140.94L567.78 194.63L567.95 167.67L568.03 203.53L568.19 213.22L568.35 145.56L568.44 155.33L568.52 276.12L568.68 173.22L568.93 224.61L569.01 240.74L569.42 282.32L569.50 157.80L569.58 214.91L569.91 151.55L569.99 197.17L570.07 195.43L570.48 132.70L570.56 200.08L570.88 258.01L570.97 157.75L571.05 218.72L571.37 149.73L571.46 221.02L571.54 233.36L571.62 290.50L571.70 146.58L571.94 244.81L572.03 165.83L572.27 151.41L572.35 215.00L572.43 157.71L572.52 178.49L572.68 166.09L572.92 234.01L573.01 172.02L573.41 165.87L573.50 269.19L573.58 201.23L573.74 219.92L573.98 167.29L574.07 210.93L574.31 158.58L574.47 168.82L574.56 161.18L574.88 161.11L574.96 269.50L575.05 170.54L575.13 162.02L575.37 217.10L575.45 170.64L575.54 244.30L575.86 166.33L575.94 169.93L576.02 269.14L576.43 163.71L576.51 154.52L576.68 197.93L576.92 177.92L577.00 164.87L577.17 209.78L577.49 152.34L577.58 195.43L577.74 177.22L577.98 181.77L578.06 164.96L578.31 240.81L578.47 169.56L578.55 242.64L578.80 138.20L578.96 402.50L579.04 154.91L579.29 242.18L579.45 162.08L579.53 204.38L579.78 257.98L579.86 156.25L579.94 170.49L580.02 241.08L580.35 160.90L580.43 162.94L580.51 166.82L580.59 181.14L580.92 168.33L581.00 202.95L581.08 276.10L581.41 159.63L581.49 170.55L581.57 225.66L581.82 168.86L581.98 280.50L582.06 162.84L582.14 155.63L582.23 218.85L582.47 207.95L582.55 183.65L582.63 233.72L582.80 154.15L582.96 167.62L583.04 165.39L583.21 233.68L583.37 160.92L583.45 168.99L583.53 163.04L583.61 184.12L583.78 149.68L583.94 161.42L584.02 199.21L584.10 254.88L584.27 156.90L584.43 216.25L584.51 184.53L584.76 208.47L584.84 156.77L584.92 161.09L585.00 280.50L585.16 157.84L585.49 278.33L585.57 251.41L585.90 162.24L585.98 219.57L586.06 160.68L586.14 256.64L586.47 164.00L586.55 183.63L586.80 156.96L586.96 255.73L587.04 162.83L587.12 271.92L587.20 146.70L587.45 152.09L587.53 162.95L587.86 274.35L587.94 207.36L588.02 282.50L588.35 157.91L588.43 239.63L588.51 169.35L588.75 151.52L589.00 259.92L589.08 250.80L589.16 150.03L589.33 254.51L589.49 175.34L589.57 166.05L589.65 247.93L589.81 165.36L589.98 168.05L590.06 191.77L590.22 198.16L590.30 151.93L590.47 153.36L590.55 162.15L590.63 315.50L590.71 157.22L590.96 212.14L591.04 243.83L591.20 159.56L591.28 247.93L591.45 181.40L591.53 224.36L591.61 251.51L591.94 154.65L592.02 193.93L592.10 252.05L592.26 171.20L592.43 183.61L592.51 180.15L592.92 265.96L593.00 151.95L593.08 174.35L593.16 163.59L593.49 204.00L593.57 246.66L593.81 168.34L593.98 256.50L594.06 170.05L594.14 153.06L594.30 240.06L594.47 208.06L594.55 152.04L594.63 214.45L594.96 171.31L595.04 266.20L595.28 183.77L595.45 243.00L595.53 166.87L595.61 176.65L595.77 154.78L595.93 167.72L596.02 240.27L596.26 247.43L596.34 154.64L596.42 179.55L596.51 153.78L596.83 239.84L597.00 200.27L597.08 192.54L597.24 202.25L597.49 139.20L597.57 210.45L597.73 168.67L597.97 169.52L598.06 152.47L598.38 372.50L598.46 144.45L598.55 170.19L598.79 152.94L598.87 178.87L598.95 176.31L599.04 161.50L599.12 199.34L599.44 180.99L599.53 197.82L599.77 146.70L599.85 213.89L599.93 163.15" stroke="#000" stroke-width="2.45" fill="none" stroke-linejoin="round" stroke-linecap="square"/><rect x="448.5" y="22.5" width="170" height="74" rx="2.78" ry="2.78" fill="#fff" fill-opacity="0.8" stroke="#ccc" stroke-opacity="0.8" stroke-width="1.2"/><rect x="452.96" y="57.96" width="29.08" height="2.08" fill="#000"/><path d="M74.5 15V423M625.5 15V423M73.5 15.5H626.5M73.5 422.5H626.5" stroke="#000" stroke-width="1.11" fill="none"/><path d="M99.5 422.5V427.6M161.5 422.5V427.6M224.5 422.5V427.6M287.5 422.5V427.6M349.5 422.5V427.6M412.5 422.5V427.6M475.5 422.5V427.6M537.5 422.5V427.6M600.5 422.5V427.6M69.4 33.5H74.5M69.4 84.5H74.5M69.4 134.5H74.5M69.4 185.5H74.5M69.4 235.5H74.5M69.4 286.5H74.5M69.4 336.5H74.5M69.4 387.5H74.5" stroke="#000" stroke-width="1.11" fill="none"/><text x="63.92" y="38.68" font-size="14.70" text-anchor="end" textLength="7.17" lengthAdjust="spacingAndGlyphs">0</text><text x="63.16" y="88.81" font-size="14.70" text-anchor="end" textLength="27.92" lengthAdjust="spacingAndGlyphs">−10</text><text x="62.73" y="139.77" font-size="14.70" text-anchor="end" textLength="26.92" lengthAdjust="spacingAndGlyphs">−20</text><text x="62.80" y="189.63" font-size="14.70" text-anchor="end" textLength="26.92" lengthAdjust="spacingAndGlyphs">−30</text><text x="62.73" y="241.35" font-size="14.70" text-anchor="end" textLength="26.92" lengthAdjust="spacingAndGlyphs">−40</text><text x="62.83" y="290.75" font-size="14.70" text-anchor="end" textLength="26.92" lengthAdjust="spacingAndGlyphs">−50</text><text x="63.19" y="342.15" font-size="14.70" text-anchor="end" textLength="27.92" lengthAdjust="spacingAndGlyphs">−60</text><text x="62.57" y="391.86" font-size="14.70" text-anchor="end" textLength="26.92" lengthAdjust="spacingAndGlyphs">−70</text><text x="99.47" y="442.11" font-size="14.70" text-anchor="middle" textLength="19.42" lengthAdjust="spacingAndGlyphs">0.0</text><text x="160.77" y="442.25" font-size="14.70" text-anchor="middle" textLength="20.42" lengthAdjust="spacingAndGlyphs">2.5</text><text x="223.72" y="442.15" font-size="14.70" text-anchor="middle" textLength="19.42" lengthAdjust="spacingAndGlyphs">5.0</text><text x="286.02" y="442.12" font-size="14.70" text-anchor="middle" textLength="19.42" lengthAdjust="spacingAndGlyphs">7.5</text><text x="348.75" y="441.97" font-size="14.70" text-anchor="middle" textLength="29.59" lengthAdjust="spacingAndGlyphs">10.0</text><text x="411.30" y="442.02" font-size="14.70" text-anchor="middle" textLength="29.59" lengthAdjust="spacingAndGlyphs">12.5</text><text x="474.83" y="441.99" font-size="14.70" text-anchor="middle" textLength="29.59" lengthAdjust="spacingAndGlyphs">15.0</text><text x="536.20" y="441.92" font-size="14.70" text-anchor="middle" textLength="29.59" lengthAdjust="spacingAndGlyphs">17.5</text><text x="600.54" y="442.16" font-size="14.70" text-anchor="middle" textLength="29.59" lengthAdjust="spacingAndGlyphs">20.0</text><text x="348.53" y="461.83" font-size="14.70" text-anchor="middle" textLength="115.83" lengthAdjust="spacingAndGlyphs">Frequency [MHz]</text><text x="24.69" y="220.24" font-size="14.70" text-anchor="middle" textLength="61.42" lengthAdjust="spacingAndGlyphs" transform="rotate(-90 24.69 220.24)">PSD [dB]</text><text x="491.82" y="38.10" font-size="14.70" textLength="114.20" lengthAdjust="spacingAndGlyphs">ENOB: -2.86 bits</text><text x="492.22" y="54.52" font-size="14.70" textLength="104.88" lengthAdjust="spacingAndGlyphs">SNR: -15.38 dB</text><text x="492.11" y="70.94" font-size="14.70" textLength="119.75" lengthAdjust="spacingAndGlyphs">SINAD: -15.43 dB</text><text x="492.22" y="86.87" font-size="14.70" textLength="76.73" lengthAdjust="spacingAndGlyphs">SFDR: 6.85</text></svg></body></html>
